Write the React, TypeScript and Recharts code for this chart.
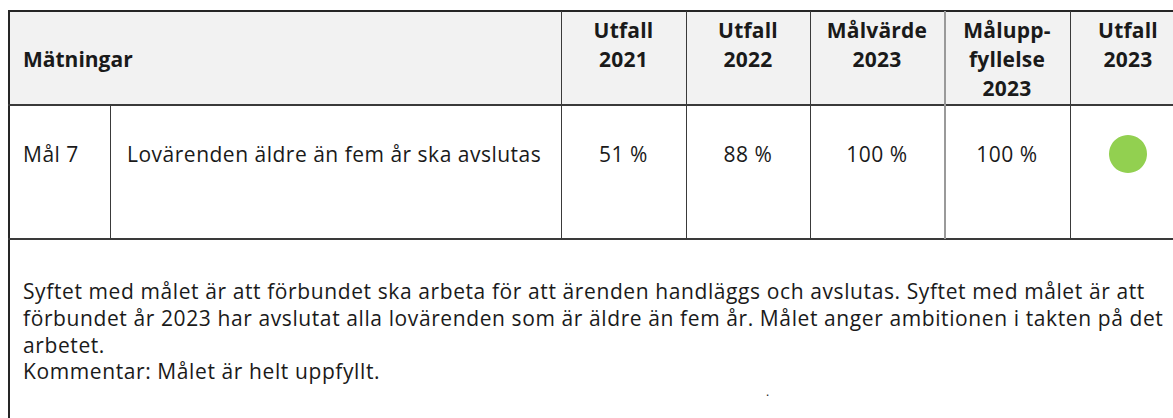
import React from 'react';
import { PieChart, Pie, Cell } from 'recharts';

// Table content
const headerTitle = 'Mätningar';
const columnHeaders = [
  ['Utfall', '2021'],
  ['Utfall', '2022'],
  ['Målvärde', '2023'],
  ['Målupp-', 'fyllelse', '2023'],
  ['Utfall', '2023'],
];
const goalLabel = 'Mål 7';
const measureName = 'Lovärenden äldre än fem år ska avslutas';
const resultValues = ['51 %', '88 %', '100 %', '100 %'];
const statusData = [{ name: 'Måluppfyllelse', value: 100 }];
const statusColor = '#92d050';
const paragraphLines = [
  'Syftet med målet är att förbundet ska arbeta för att ärenden handläggs och avslutas. Syftet med målet är att',
  'förbundet år 2023 har avslutat alla lovärenden som är äldre än fem år. Målet anger ambitionen i takten på det',
  'arbetet.',
  'Kommentar: Målet är helt uppfyllt.',
];

// column edges (px)
const colEdges = [561, 686, 810, 944, 1070, 1186];
const FONT = '"Open Sans", sans-serif';
const TEXT = '#1a1a1a';
const LINE = '#3a3a3a';
const FS = 21;
const REG_SPACING = '0.5px';
const BOLD_SPACING = '0.2px';

const line = (left: number, top: number, width: number, height: number, color = LINE) => (
  <div style={{ position: 'absolute', left, top, width, height, background: color }} />
);

const centered = (cx: number, cy: number, text: string, bold = false, key?: React.Key) => (
  <div
    key={key}
    style={{
      position: 'absolute',
      left: cx - 100,
      top: cy - 15,
      width: 200,
      height: 30,
      lineHeight: '30px',
      textAlign: 'center',
      fontWeight: bold ? 700 : 400,
      fontSize: FS,
      letterSpacing: bold ? BOLD_SPACING : REG_SPACING,
      color: TEXT,
      whiteSpace: 'nowrap',
    }}
  >
    {text}
  </div>
);

const StatusDot = () => (
  <PieChart width={44} height={44}>
    <Pie
      data={statusData}
      dataKey="value"
      cx="50%"
      cy="50%"
      innerRadius={0}
      outerRadius={19}
      stroke="none"
      isAnimationActive={false}
    >
      {statusData.map((d) => (
        <Cell key={d.name} fill={statusColor} />
      ))}
    </Pie>
  </PieChart>
);

export default function App() {
  const headerLineY = [30, 59, 88];
  const plain = { position: 'absolute' as const, lineHeight: '30px', fontSize: FS, letterSpacing: REG_SPACING, color: TEXT, whiteSpace: 'nowrap' as const };
  return (
    <div style={{ position: 'relative', width: 1173, height: 418, overflow: 'hidden', background: '#fff', fontFamily: FONT }}>
      <style>{`body{margin:0;overflow:hidden}`}</style>
      {/* header background */}
      <div style={{ position: 'absolute', left: 10, top: 12, width: 1163, height: 92, background: '#f2f2f2' }} />
      {/* borders */}
      {line(8, 10, 1165, 2, '#262626')}
      {line(8, 10, 2, 408, '#262626')}
      {line(8, 104, 1165, 2)}
      {line(8, 238, 1165, 2)}
      {line(110, 105, 1, 134)}
      {colEdges.slice(0, 5).map((x, i) => (
        <React.Fragment key={x}>{line(x, 11, i === 3 ? 2 : 1, 228, i === 3 ? '#9a9a9a' : LINE)}</React.Fragment>
      ))}

      {/* header text */}
      <div style={{ ...plain, left: 23, top: 44, fontWeight: 700, letterSpacing: 0 }}>{headerTitle}</div>
      {columnHeaders.map((lines, i) => {
        const cx = (colEdges[i] + colEdges[i + 1]) / 2;
        return lines.map((t, j) => centered(cx, headerLineY[j], t, true, `h${i}-${j}`));
      })}

      {/* data row */}
      <div style={{ ...plain, left: 23, top: 139 }}>{goalLabel}</div>
      <div style={{ ...plain, left: 127, top: 139 }}>{measureName}</div>
      {resultValues.map((v, i) => centered((colEdges[i] + colEdges[i + 1]) / 2, 154, v, false, `v${i}`))}
      <div style={{ position: 'absolute', left: 1128 - 22, top: 154 - 22, width: 44, height: 44 }}>
        <StatusDot />
      </div>

      {/* description */}
      {paragraphLines.map((t, i) => (
        <div key={i} style={{ ...plain, left: 23, top: 276 + i * 26.8, letterSpacing: '0.6px' }}>
          {t}
        </div>
      ))}
      <div style={{ position: 'absolute', left: 766, top: 378, lineHeight: '27px', fontSize: 12, color: TEXT }}>.</div>
    </div>
  );
}
